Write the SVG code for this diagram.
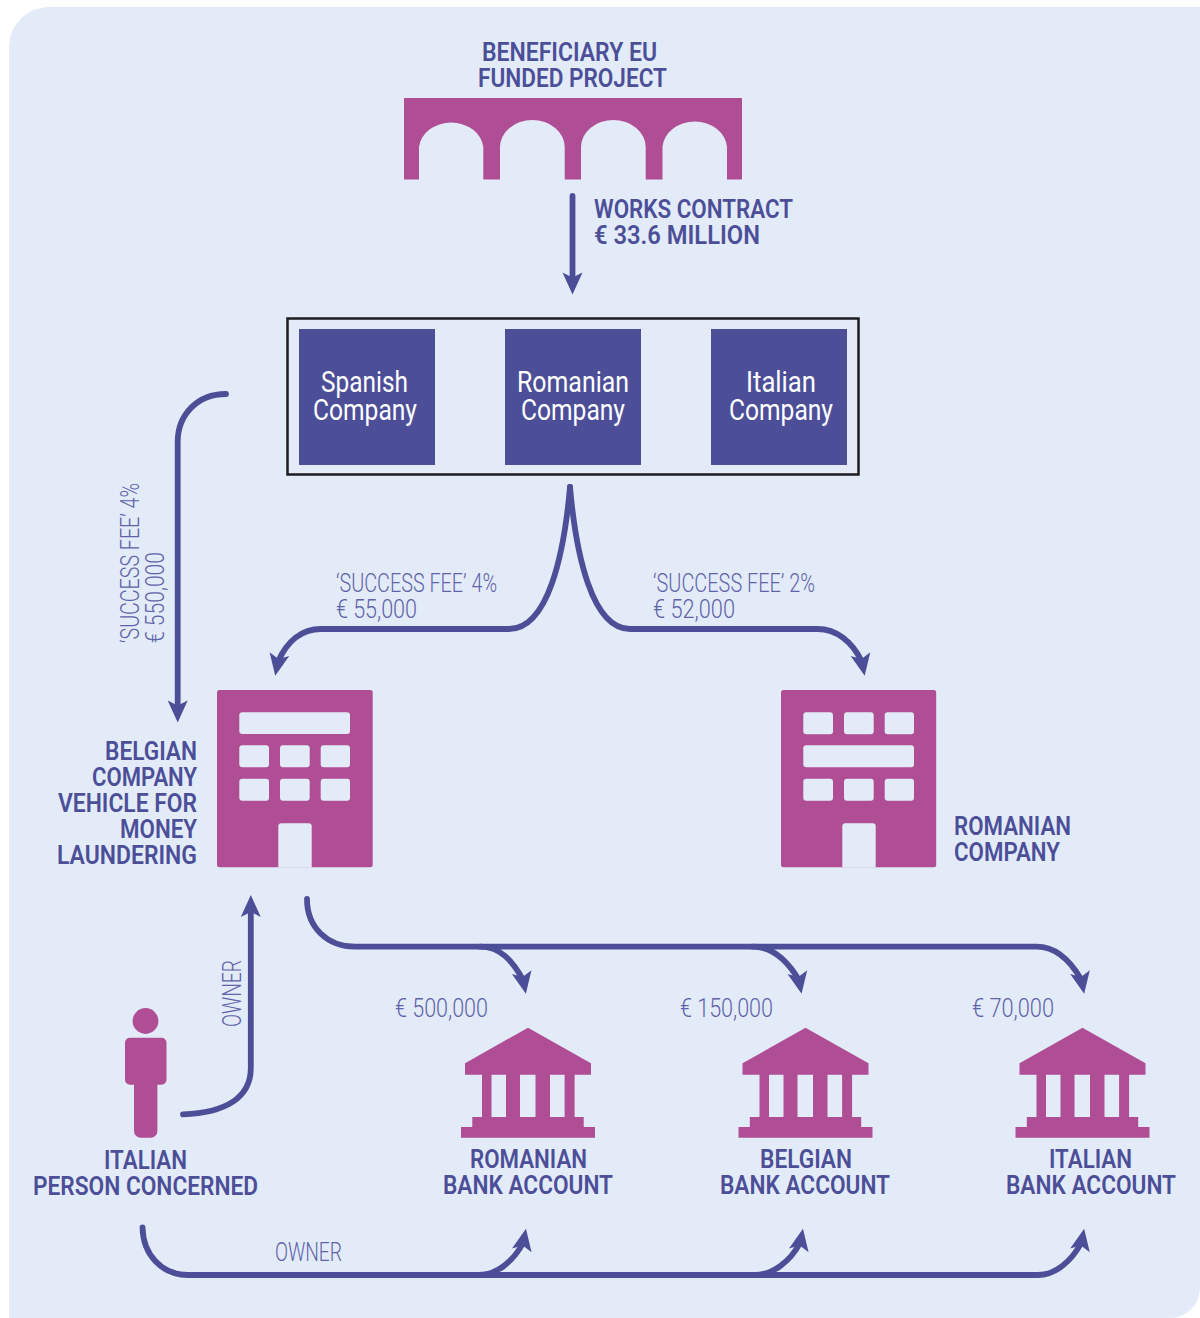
<svg xmlns="http://www.w3.org/2000/svg" width="1200" height="1318" viewBox="0 0 1200 1318">
<style>
.b{font-family:"Roboto","Liberation Sans",sans-serif;font-weight:600;font-size:25px;fill:#4c4f98}
.l{font-family:"Roboto","Liberation Sans",sans-serif;font-weight:300;font-size:25px;fill:#5f63aa}
.w{font-family:"Roboto","Liberation Sans",sans-serif;font-weight:400;font-size:29px;fill:#fff}
.p{fill:#b04e95}
.h{fill:#e3ebf8}
.c{fill:none;stroke:#4c4f98;stroke-width:5.8;stroke-linecap:round}
.s{fill:#4c4f98}
</style>
<defs>
<marker id="head" markerUnits="userSpaceOnUse" markerWidth="30" markerHeight="26" viewBox="-10 -13 30 26" refX="0" refY="0" orient="auto"><path class="s" d="M14,0 L-8,-10 L-3,0 L-8,10 Z"/></marker>
<marker id="headDR" markerUnits="userSpaceOnUse" markerWidth="30" markerHeight="26" viewBox="-10 -13 30 26" refX="0" refY="0" orient="79"><path class="s" d="M14,0 L-8,-10 L-3,0 L-8,10 Z"/></marker>
<marker id="headDL" markerUnits="userSpaceOnUse" markerWidth="30" markerHeight="26" viewBox="-10 -13 30 26" refX="0" refY="0" orient="101"><path class="s" d="M14,0 L-8,-10 L-3,0 L-8,10 Z"/></marker>
<marker id="headUR" markerUnits="userSpaceOnUse" markerWidth="30" markerHeight="26" viewBox="-10 -13 30 26" refX="0" refY="0" orient="-79"><path class="s" d="M14,0 L-8,-10 L-3,0 L-8,10 Z"/></marker>
<g id="bankIcon"><path class="p" d="M67,0 L130,35.6 V47 H113.600 V89.300 H122.700 V99.300 H134 V110 H0 V99.300 H11.300 V89.300 H21 V47 H4 V35.600 Z M30.500,47 V89.300 H45 V47 Z M59,47 V89.300 H74.500 V47 Z M89,47 V89.300 H103.600 V47 Z" fill-rule="evenodd"/></g>
</defs>
<path id="background" class="h" d="M49,7 H1200 V1288 A30,30 0 0 1 1170,1318 H9 V47 A40,40 0 0 1 49,7 Z"/>
<g id="connectors">
<path class="c" marker-end="url(#head)" d="M572.500,196 V280.500"/>
<path class="c" marker-end="url(#head)" d="M226,394 C197,394 177.700,415 177.700,442 V708.500"/>
<path class="c" marker-end="url(#headDL)" d="M570,487 C564,555 548,629 509,629 H321 C302,629 287,641 277.900,662"/>
<path class="c" marker-end="url(#headDR)" d="M570,487 C576,555 592,629 630,629 H817.500 C836,629 852,641 862,662"/>
<path class="c" marker-end="url(#headDR)" d="M307,899 C307,928 328,946.700 355,946.700 H1036.700 C1056,946.700 1070,960 1081.500,980"/>
<path class="c" marker-end="url(#headDR)" d="M480,946.700 C500,946.700 512,960 523.200,980"/>
<path class="c" marker-end="url(#headDR)" d="M753,946.700 C773,946.700 787,960 798.900,980"/>
<path class="c" marker-end="url(#head)" d="M183,1114.300 C225,1113 250.800,1098 250.800,1068 V909"/>
<path class="c" marker-end="url(#headUR)" d="M142.500,1227.300 C143,1255 162,1275 188,1275 H1038 C1055,1275 1071,1262 1081.500,1242.500"/>
<path class="c" marker-end="url(#headUR)" d="M479,1275 C496,1275 513,1262 523.300,1242.500"/>
<path class="c" marker-end="url(#headUR)" d="M755,1275 C772,1275 790,1262 800.300,1242.500"/>
</g>
<g id="bridge">
<path class="p" d="M404,98 H742 V179.500 H727 V147 A32.300,27 0 0 0 662.500,147 V179.500 H645.700 V147 A32.300,27 0 0 0 581,147 V179.500 H564.700 V147 A32.300,27 0 0 0 500,147 V179.500 H483.300 V147 A32.300,27 0 0 0 419,147 V179.500 H404 Z"/>
<text class="b" x="482" y="60.500" textLength="175" lengthAdjust="spacingAndGlyphs">BENEFICIARY EU</text>
<text class="b" x="478" y="86.500" textLength="189" lengthAdjust="spacingAndGlyphs">FUNDED PROJECT</text>
</g>
<g id="works-contract-label">
<text class="b" x="594" y="217.500" textLength="199" lengthAdjust="spacingAndGlyphs">WORKS CONTRACT</text>
<text class="b" x="594" y="243.500" textLength="166" lengthAdjust="spacingAndGlyphs">€ 33.6 MILLION</text>
</g>
<g id="consortium"><rect x="287.500" y="318.500" width="571" height="156" fill="none" stroke="#1d1d1f" stroke-width="2.500"/></g>
<g id="spanish-company">
<rect class="s" x="299" y="329" width="136" height="136"/>
<text class="w" x="321" y="391.500" textLength="87" lengthAdjust="spacingAndGlyphs">Spanish</text>
<text class="w" x="313" y="419.500" textLength="104" lengthAdjust="spacingAndGlyphs">Company</text>
</g>
<g id="romanian-company-box">
<rect class="s" x="505" y="329" width="136" height="136"/>
<text class="w" x="517" y="391.500" textLength="112" lengthAdjust="spacingAndGlyphs">Romanian</text>
<text class="w" x="521" y="419.500" textLength="104" lengthAdjust="spacingAndGlyphs">Company</text>
</g>
<g id="italian-company">
<rect class="s" x="711" y="329" width="136" height="136"/>
<text class="w" x="746" y="391.500" textLength="70" lengthAdjust="spacingAndGlyphs">Italian</text>
<text class="w" x="729" y="419.500" textLength="104" lengthAdjust="spacingAndGlyphs">Company</text>
</g>
<g id="fee-labels">
<text class="l" transform="translate(138.500 643) rotate(-90)" textLength="160" lengthAdjust="spacingAndGlyphs">‘SUCCESS FEE’ 4%</text>
<text class="l" transform="translate(164 643) rotate(-90)" textLength="91" lengthAdjust="spacingAndGlyphs">€ 550,000</text>
<text class="l" x="336" y="591.500" textLength="161" lengthAdjust="spacingAndGlyphs">‘SUCCESS FEE’ 4%</text>
<text class="l" x="336" y="617.500" textLength="81" lengthAdjust="spacingAndGlyphs">€ 55,000</text>
<text class="l" x="653" y="591.500" textLength="162" lengthAdjust="spacingAndGlyphs">‘SUCCESS FEE’ 2%</text>
<text class="l" x="653" y="617.500" textLength="82" lengthAdjust="spacingAndGlyphs">€ 52,000</text>
</g>
<g id="belgian-company">
<rect class="p" x="217" y="690" width="155.700" height="177.300" rx="2.500"/>
<rect class="h" x="239.300" y="712.300" width="110.700" height="21.700" rx="3"/>
<rect class="h" x="239.300" y="745.300" width="29.700" height="22" rx="3"/>
<rect class="h" x="280" y="745.300" width="29.700" height="22" rx="3"/>
<rect class="h" x="320.700" y="745.300" width="29.300" height="22" rx="3"/>
<rect class="h" x="239.300" y="778.700" width="29.700" height="22" rx="3"/>
<rect class="h" x="280" y="778.700" width="29.700" height="22" rx="3"/>
<rect class="h" x="320.700" y="778.700" width="29.300" height="22" rx="3"/>
<path class="h" d="M278.300,867.500 V826.300 a3,3 0 0 1 3,-3 H308.700 a3,3 0 0 1 3,3 V867.500 Z"/>
<text class="b" x="105" y="759.500" textLength="92" lengthAdjust="spacingAndGlyphs">BELGIAN</text>
<text class="b" x="92" y="785.500" textLength="105" lengthAdjust="spacingAndGlyphs">COMPANY</text>
<text class="b" x="58" y="811.500" textLength="139" lengthAdjust="spacingAndGlyphs">VEHICLE FOR</text>
<text class="b" x="120" y="837.500" textLength="77" lengthAdjust="spacingAndGlyphs">MONEY</text>
<text class="b" x="57" y="863.500" textLength="140" lengthAdjust="spacingAndGlyphs">LAUNDERING</text>
</g>
<g id="romanian-company">
<rect class="p" x="781" y="690" width="155.200" height="177.300" rx="2.500"/>
<rect class="h" x="803.300" y="712.300" width="29.700" height="22" rx="3"/>
<rect class="h" x="844" y="712.300" width="29.700" height="22" rx="3"/>
<rect class="h" x="884.700" y="712.300" width="29.300" height="22" rx="3"/>
<rect class="h" x="803.300" y="745.300" width="110.700" height="22" rx="3"/>
<rect class="h" x="803.300" y="778.700" width="29.700" height="22" rx="3"/>
<rect class="h" x="844" y="778.700" width="29.700" height="22" rx="3"/>
<rect class="h" x="884.700" y="778.700" width="29.300" height="22" rx="3"/>
<path class="h" d="M842.300,867.500 V826.300 a3,3 0 0 1 3,-3 H872.700 a3,3 0 0 1 3,3 V867.500 Z"/>
<text class="b" x="954" y="835" textLength="117" lengthAdjust="spacingAndGlyphs">ROMANIAN</text>
<text class="b" x="954" y="861" textLength="106" lengthAdjust="spacingAndGlyphs">COMPANY</text>
</g>
<g id="person">
<circle class="p" cx="145.500" cy="1021" r="12.900"/>
<path class="p" d="M130,1037.700 H161.500 a5,5 0 0 1 5,5 V1079.700 a5,5 0 0 1 -5,5 H157.400 V1131 a6.700,6.700 0 0 1 -6.700,6.700 H140.700 a6.700,6.700 0 0 1 -6.700,-6.700 V1084.700 H130 a5,5 0 0 1 -5,-5 V1042.700 a5,5 0 0 1 5,-5 Z"/>
<text class="b" x="104" y="1168.500" textLength="83" lengthAdjust="spacingAndGlyphs">ITALIAN</text>
<text class="b" x="33" y="1194.500" textLength="225" lengthAdjust="spacingAndGlyphs">PERSON CONCERNED</text>
</g>
<g id="owner-labels">
<text class="l" transform="translate(241 1027) rotate(-90)" textLength="67" lengthAdjust="spacingAndGlyphs">OWNER</text>
<text class="l" x="275" y="1260.500" textLength="67" lengthAdjust="spacingAndGlyphs">OWNER</text>
</g>
<g id="romanian-bank">
<use href="#bankIcon" transform="translate(461 1027.700)"/>
<text class="l" x="395" y="1016.500" textLength="93" lengthAdjust="spacingAndGlyphs">€ 500,000</text>
<text class="b" x="470" y="1168" textLength="117" lengthAdjust="spacingAndGlyphs">ROMANIAN</text>
<text class="b" x="443" y="1194" textLength="170" lengthAdjust="spacingAndGlyphs">BANK ACCOUNT</text>
</g>
<g id="belgian-bank">
<use href="#bankIcon" transform="translate(738.500 1027.700)"/>
<text class="l" x="680" y="1016.500" textLength="93" lengthAdjust="spacingAndGlyphs">€ 150,000</text>
<text class="b" x="760" y="1168" textLength="92" lengthAdjust="spacingAndGlyphs">BELGIAN</text>
<text class="b" x="720" y="1194" textLength="170" lengthAdjust="spacingAndGlyphs">BANK ACCOUNT</text>
</g>
<g id="italian-bank">
<use href="#bankIcon" transform="translate(1015.500 1027.700)"/>
<text class="l" x="972" y="1016.500" textLength="82" lengthAdjust="spacingAndGlyphs">€ 70,000</text>
<text class="b" x="1049" y="1168" textLength="83" lengthAdjust="spacingAndGlyphs">ITALIAN</text>
<text class="b" x="1006" y="1194" textLength="170" lengthAdjust="spacingAndGlyphs">BANK ACCOUNT</text>
</g>
</svg>
